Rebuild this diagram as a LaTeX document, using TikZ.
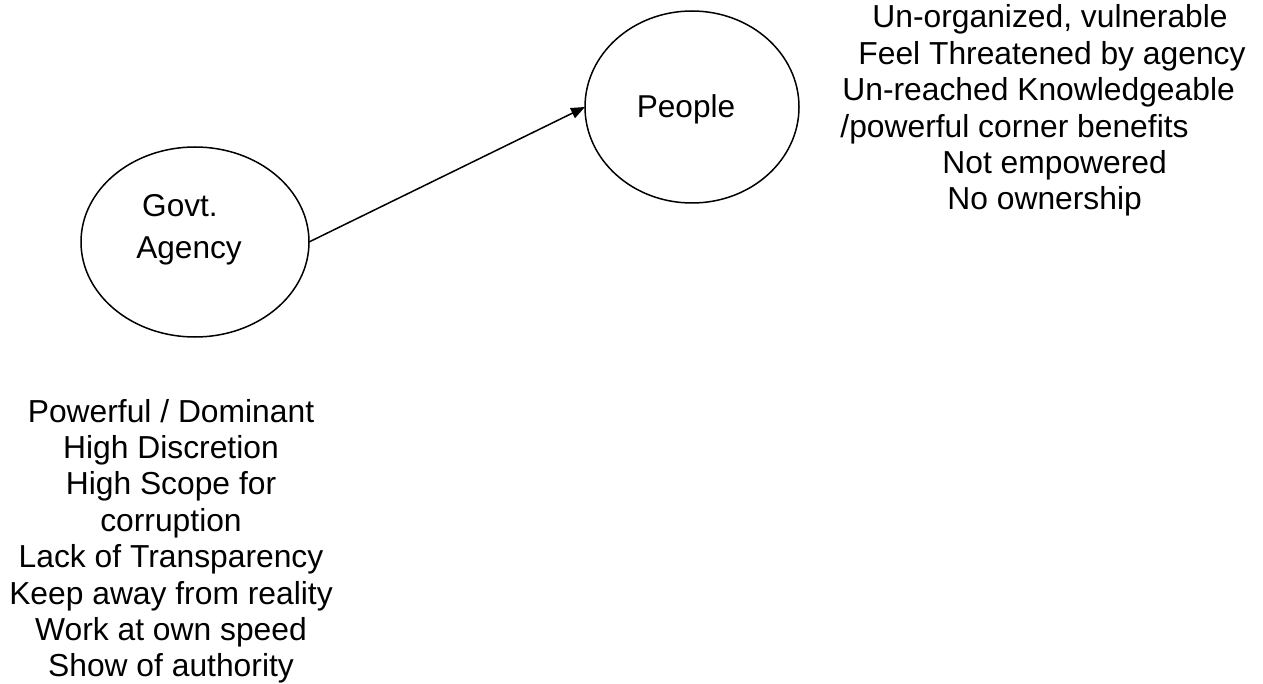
\documentclass[tikz,border=0pt]{standalone}
\usepackage{fontspec}
\setmainfont{Liberation Sans}
\usepackage{tikz}
\usetikzlibrary{shapes.geometric,arrows.meta}
\newcommand{\lh}{36.4}
\newcommand{\listsize}{\fontsize{15.9pt}{18.2pt}\selectfont}
\newcommand{\bubblesize}{\fontsize{15.8pt}{19pt}\selectfont}
\tikzstyle{bord}=[line width=0.75pt]
\tikzstyle{bulle}=[ellipse,draw,bord,inner sep=0pt,outer sep=0pt]
\tikzstyle{mot}=[anchor=base,inner sep=0pt,font=\listsize]

\begin{document}
\begin{tikzpicture}[x=0.5pt,y=-0.5pt]

\useasboundingbox (0,0) rectangle (1263,684);

\node[bulle,minimum width=114pt,minimum height=95pt] (agency) at (195,242) {};
\node[bulle,minimum width=107pt,minimum height=96pt] (people) at (692,107) {};

\node[mot,font=\bubblesize] (govt) at (180,217) {Govt.};
\node[mot,font=\bubblesize] (agencytxt) at (189,259) {Agency};
\node[mot,font=\bubblesize] (peopletxt) at (686,118) {People};

\draw[bord,-{Triangle[length=7pt,width=5.5pt]}] (agency.east) -- (people.west);

\foreach \x/\t [count=\i] in {872/{Un-organized, vulnerable},858/{Feel Threatened by agency},
  842/{Un-reached Knowledgeable},840/{/powerful corner benefits},942/{Not empowered},947/{No ownership}}
\node[mot,anchor=base west] (p\i) at (\x,{28+\lh*(\i-1)}) {\t};

\foreach \t [count=\i] in {Powerful / Dominant,High Discretion,High Scope for,corruption,
  Lack of Transparency,Keep away from reality,Work at own speed,Show of authority}
\node[mot] (g\i) at (171,{422+\lh*(\i-1)}) {\t};

\end{tikzpicture}
\end{document}
